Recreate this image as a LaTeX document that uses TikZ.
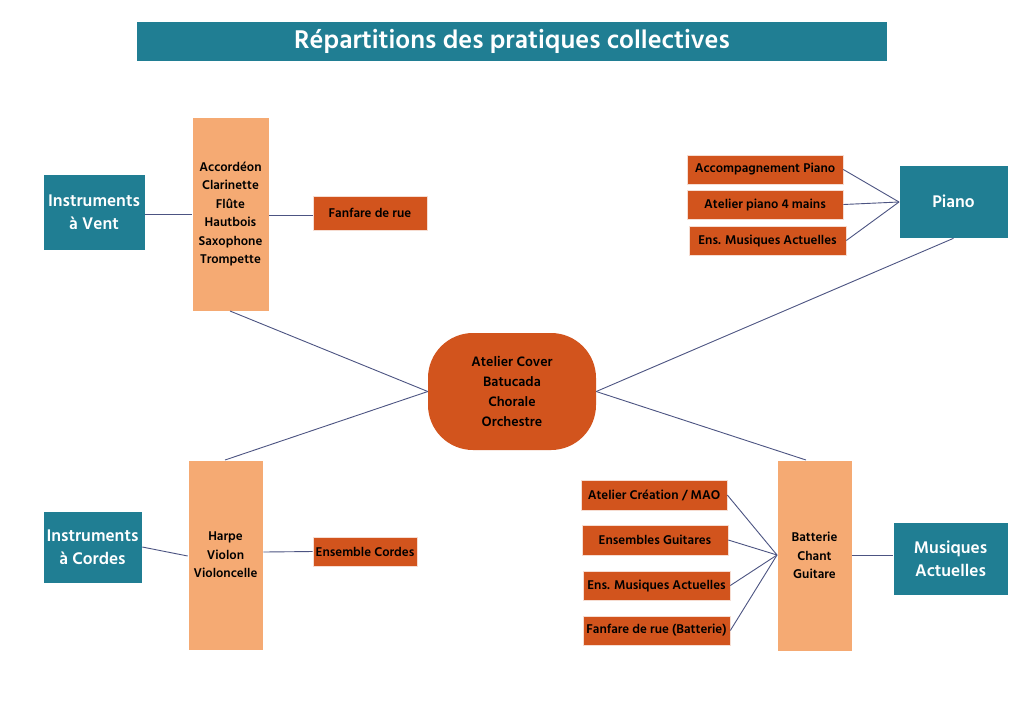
\documentclass[tikz,border=0pt]{standalone}
\usepackage{fontspec}
\setmainfont{Hind Siliguri}[BoldFont=* SemiBold]
\begin{document}
\begin{tikzpicture}[x=1pt,y=-1pt,
  every node/.style={inner sep=0pt, align=center, font=\bfseries},
  catbox/.style={fill=tealc, draw=white, line width=0.6pt, text=white, font=\bfseries\fontsize{17.3}{23.5}\selectfont},
  listbox/.style={fill=lighto, draw=white, line width=0.6pt, text=black, font=\bfseries\fontsize{13}{18.4}\selectfont},
  actbox/.style={fill=darko, draw=white!80!darko, line width=0.6pt, text=black, font=\bfseries\fontsize{13}{14}\selectfont},
  link/.style={draw=linec, line width=0.9pt}]
\definecolor{tealc}{HTML}{207E93}
\definecolor{lighto}{HTML}{F5AA73}
\definecolor{darko}{HTML}{D2541D}
\definecolor{linec}{HTML}{4C5482}
\useasboundingbox (0,0) rectangle (1024,724);
\fill[white] (0,0) rectangle (1024,724);
% title
\node[fill=tealc, minimum width=750pt, minimum height=39pt, text=white, font=\bfseries\fontsize{26.3}{28}\selectfont] (title) at (512,41.5) {Répartitions des pratiques collectives};
% wind
\node[catbox, minimum width=102pt, minimum height=76pt] (iv) at (94,212) {Instruments\\à Vent};
\node[listbox, minimum width=77pt, minimum height=194pt] (wl) at (230.5,214) {Accordéon\\Clarinette\\Flûte\\Hautbois\\Saxophone\\Trompette};
\node[actbox, minimum width=114pt, minimum height=34pt] (ff) at (370,213) {Fanfare de rue};
% strings
\node[catbox, minimum width=99pt, minimum height=72pt] (ic) at (92.5,547) {Instruments\\à Cordes};
\node[listbox, minimum width=75pt, minimum height=190pt] (sl) at (225.5,555) {Harpe\\Violon\\Violoncelle};
\node[actbox, minimum width=104pt, minimum height=29pt] (ec) at (365,551.5) {Ensemble Cordes};
% center
\node[fill=darko, rounded corners=45pt, minimum width=168pt, minimum height=117pt, text=black, font=\bfseries\fontsize{14}{20}\selectfont] (c) at (512,391.5) {Atelier Cover\\Batucada\\Chorale\\Orchestre};
% piano
\node[catbox, minimum width=109pt, minimum height=73pt] (pi) at (953.5,201.5) {Piano};
\node[actbox, minimum width=156pt, minimum height=29pt] (p1) at (765,169.5) {Accompagnement Piano};
\node[actbox, minimum width=156pt, minimum height=29pt] (p2) at (765,204.5) {Atelier piano 4 mains};
\node[actbox, minimum width=157pt, minimum height=29pt] (p3) at (767.5,240.5) {Ens. Musiques Actuelles};
% musiques actuelles
\node[catbox, minimum width=115pt, minimum height=73pt] (ma) at (950.5,558.5) {Musiques\\Actuelles};
\node[listbox, minimum width=75pt, minimum height=191pt] (bl) at (814.5,555.5) {Batterie\\Chant\\Guitare};
\node[actbox, minimum width=146pt, minimum height=30pt] (m1) at (654,495) {Atelier Création / MAO};
\node[actbox, minimum width=146pt, minimum height=30pt] (m2) at (655,540) {Ensembles Guitares};
\node[actbox, minimum width=147pt, minimum height=29pt] (m3) at (656.5,585.5) {Ens. Musiques Actuelles};
\node[actbox, minimum width=147pt, minimum height=29pt] (m4) at (656.5,630.5) {Fanfare de rue (Batterie)};
% coordinates
\coordinate (cl) at (c.west);
\coordinate (cr) at (c.east);
\coordinate (pij) at (899,202);
\coordinate (blj) at (777,555);
% links
\draw[link] (iv.east |- 0,214) -- (wl.west |- 0,214);
\draw[link] (wl.east |- 0,215) -- (ff.west |- 0,215);
\draw[link] (230,311) -- (cl);
\draw[link] (cl) -- (225,460);
\draw[link] (cr) -- (pi.south);
\draw[link] (cr) -- (806,460);
\draw[link] (p1.east) -- (pij);
\draw[link] (p2.east) -- (pij);
\draw[link] (p3.east) -- (pij);
\draw[link] (ic.east) -- (sl.west |- 0,556);
\draw[link] (sl.east |- 0,552) -- (ec.west);
\draw[link] (m1.east) -- (blj);
\draw[link] (m2.east) -- (blj);
\draw[link] (m3.east) -- (blj);
\draw[link] (m4.east) -- (blj);
\draw[link] (bl.east) -- (ma.west |- bl.east);
\end{tikzpicture}
\end{document}
